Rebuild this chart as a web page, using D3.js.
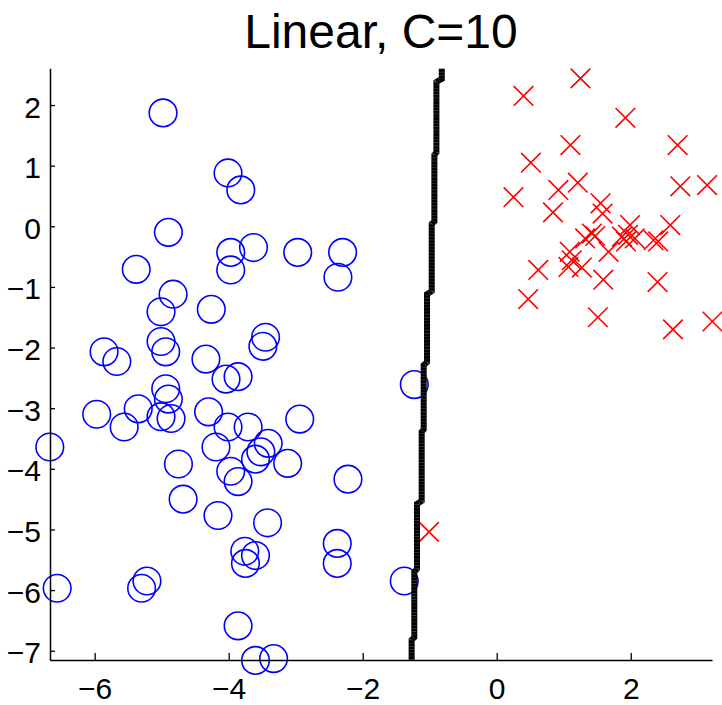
<!DOCTYPE html>
<html>
<head>
<meta charset="utf-8">
<script src="https://cdn.jsdelivr.net/npm/d3@7"></script>
<style>
  html, body { margin: 0; padding: 0; background: #fff; }
  svg { display: block; }
</style>
</head>
<body>
<svg id="chart" width="722" height="705"></svg>
<script>
// ---- Data ----
const titleText = "Linear, C=10";
const xLimits = [-6.667, 3.213];
const yLimits = [-7.153, 2.606];
const xTicks = [-6, -4, -2, 0, 2];
const yTicks = [-7, -6, -5, -4, -3, -2, -1, 0, 1, 2];

// class -1 (blue circles)
const classNeg = [
  [-4.98, 1.87], [-4.01, 0.88], [-3.82, 0.60], [-4.90, -0.10], [-5.38, -0.71],
  [-3.97, -0.43], [-3.63, -0.35], [-3.97, -0.72], [-2.97, -0.43], [-2.30, -0.43],
  [-2.37, -0.84], [-4.83, -1.12], [-5.01, -1.41], [-4.26, -1.37], [-5.01, -1.90],
  [-4.94, -2.07], [-5.86, -2.07], [-5.67, -2.23], [-3.45, -1.83], [-3.49, -1.98],
  [-4.34, -2.19], [-4.04, -2.52], [-3.86, -2.48], [-4.94, -2.68], [-4.90, -2.85],
  [-5.35, -3.01], [-5.97, -3.10], [-5.56, -3.31], [-5.01, -3.14], [-4.86, -3.17],
  [-4.30, -3.06], [-4.01, -3.31], [-3.71, -3.31], [-2.94, -3.18], [-4.19, -3.64],
  [-3.41, -3.58], [-3.52, -3.72], [-3.60, -3.84], [-3.12, -3.91], [-3.97, -4.04],
  [-3.86, -4.21], [-2.22, -4.17], [-4.75, -3.92], [-4.68, -4.50], [-4.16, -4.77],
  [-3.42, -4.89], [-2.38, -5.23], [-2.38, -5.56], [-3.76, -5.36], [-3.60, -5.43],
  [-3.75, -5.56], [-5.22, -5.85], [-5.30, -5.97], [-6.56, -5.97], [-6.67, -3.64],
  [-3.86, -6.59], [-3.60, -7.16], [-3.33, -7.13], [-1.38, -5.85], [-1.23, -2.61]
];

// class +1 (red crosses)
const classPos = [
  [1.25, 2.44], [0.40, 2.15], [1.92, 1.79], [1.10, 1.34], [2.70, 1.34],
  [0.51, 1.05], [1.21, 0.72], [0.92, 0.60], [2.74, 0.66], [3.14, 0.68],
  [0.25, 0.48], [0.84, 0.23], [1.55, 0.38], [1.58, 0.21], [1.99, 0.02],
  [2.59, 0.02], [1.42, -0.12], [1.47, -0.16], [1.32, -0.20], [1.87, -0.17],
  [1.96, -0.14], [2.06, -0.20], [1.93, -0.25], [2.34, -0.23], [2.41, -0.25],
  [1.67, -0.42], [1.09, -0.42], [1.12, -0.56], [1.07, -0.67], [1.27, -0.68],
  [0.62, -0.72], [0.47, -1.20], [1.59, -0.88], [2.40, -0.92], [1.51, -1.50],
  [2.63, -1.70], [3.22, -1.57], [-1.01, -5.04]
];

// decision boundary (stair-stepped contour)
const boundary = [
  [-0.82, 2.60], [-0.82, 2.43], [-0.90, 2.38], [-0.90, 1.22], [-0.93, 1.18],
  [-0.93, 0.08], [-0.97, 0.04], [-0.97, -1.07], [-1.04, -1.12], [-1.04, -2.24],
  [-1.09, -2.29], [-1.09, -3.35], [-1.12, -3.39], [-1.12, -4.53], [-1.19, -4.58],
  [-1.19, -5.65], [-1.23, -5.70], [-1.23, -6.78], [-1.27, -6.82], [-1.27, -7.15]
];

// ---- Layout ----
const plotL = 50, plotR = 712, plotT = 68.3, plotB = 660;
const font = "'Liberation Sans', Arial, Helvetica, sans-serif";

const svg = d3.select("#chart");
const x = d3.scaleLinear().domain(xLimits).range([plotL, plotR]);
const y = d3.scaleLinear().domain(yLimits).range([plotB, plotT]);

// title
svg.append("text")
  .attr("x", (plotL + plotR) / 2)
  .attr("y", 48)
  .attr("text-anchor", "middle")
  .attr("font-family", font)
  .attr("font-size", 48)
  .attr("fill", "#000")
  .text(titleText);

// points: circles
svg.append("g").selectAll("circle")
  .data(classNeg).join("circle")
  .attr("cx", d => x(d[0]))
  .attr("cy", d => y(d[1]))
  .attr("r", 13.8)
  .attr("fill", "none")
  .attr("stroke", "#0000ff")
  .attr("stroke-width", 1.6);

// points: crosses
const s = 9.8;
svg.append("g").selectAll("path")
  .data(classPos).join("path")
  .attr("d", d => {
    const cx = x(d[0]), cy = y(d[1]);
    return `M${cx - s},${cy - s}L${cx + s},${cy + s}M${cx - s},${cy + s}L${cx + s},${cy - s}`;
  })
  .attr("fill", "none")
  .attr("stroke", "#ff0000")
  .attr("stroke-width", 1.6);

// boundary
const line = d3.line().x(d => x(d[0])).y(d => y(d[1]));
svg.append("path")
  .datum(boundary)
  .attr("d", line)
  .attr("fill", "none")
  .attr("stroke", "#000")
  .attr("stroke-width", 6)
  .attr("stroke-linejoin", "miter");
svg.append("path")
  .datum(boundary)
  .attr("d", line)
  .attr("fill", "none")
  .attr("stroke", "#444")
  .attr("stroke-width", 5)
  .attr("stroke-dasharray", "0.6,2.6");

// axes
const xAxis = d3.axisBottom(x).tickValues(xTicks).tickSizeInner(-7).tickSizeOuter(0).tickPadding(18);
const yAxis = d3.axisLeft(y).tickValues(yTicks).tickSizeInner(-5).tickSizeOuter(0).tickPadding(9);

const gx = svg.append("g").attr("transform", `translate(0,${plotB})`).call(xAxis);
const gy = svg.append("g").attr("transform", `translate(${plotL},0)`).call(yAxis);

[gx, gy].forEach(g => {
  g.selectAll("path.domain").attr("stroke", "#000").attr("stroke-width", 1.5);
  g.selectAll(".tick line").attr("stroke", "#000").attr("stroke-width", 1.3);
  g.selectAll(".tick text")
    .attr("font-family", font)
    .attr("font-size", 30)
    .attr("fill", "#000");
});
gy.selectAll(".tick text").attr("dy", "0.4em");
</script>
</body>
</html>
